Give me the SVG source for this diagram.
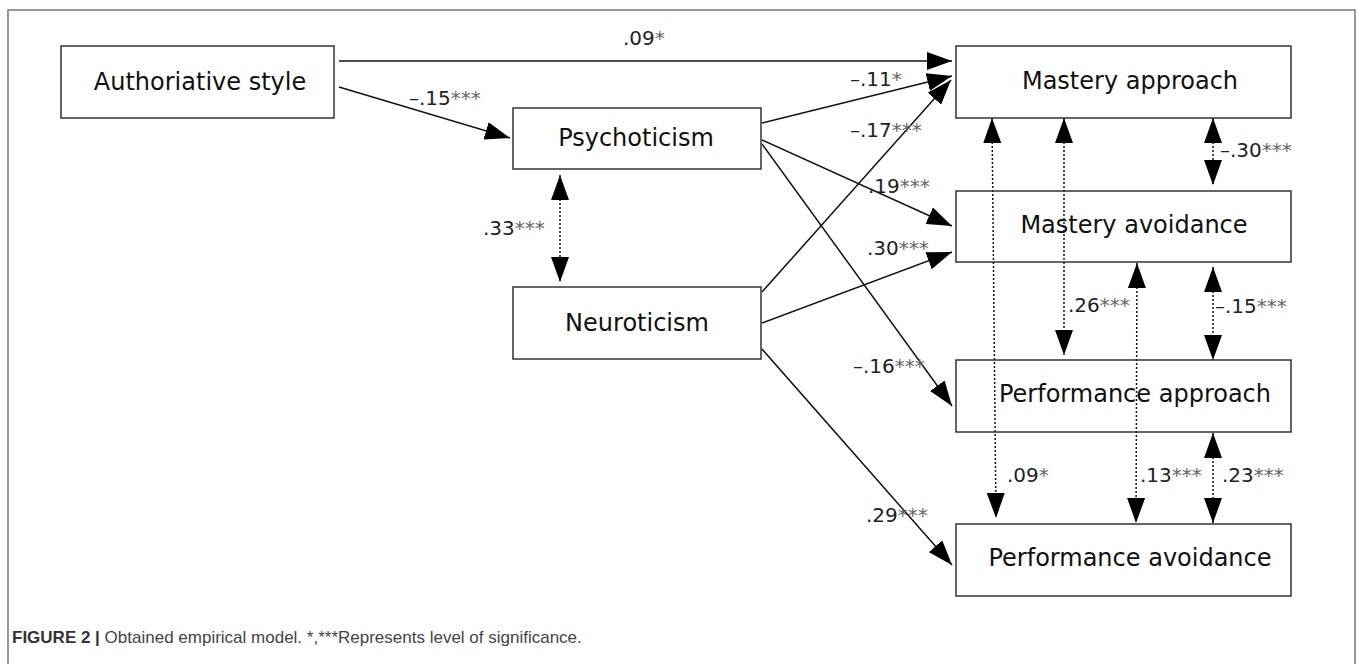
<svg xmlns="http://www.w3.org/2000/svg" width="1358" height="664" viewBox="0 0 1358 664">
<style>
.box{fill:none;stroke:#333;stroke-width:1.5}
.nt{font-family:"DejaVu Sans",sans-serif;font-size:24px;fill:#111;text-anchor:middle}
.lb{font-family:"DejaVu Sans",sans-serif;font-size:20px;fill:#222}
.st{fill:#666}
.sol{stroke:#111;stroke-width:1.5;fill:none;marker-end:url(#ah)}
.dot{stroke:#111;stroke-width:1.5;fill:none;stroke-dasharray:2 2;marker-end:url(#ah);marker-start:url(#ah)}
.cap{font-family:"Liberation Sans",Arial,sans-serif;font-size:17px;fill:#444}
</style>
<defs>
<marker id="ah" markerUnits="userSpaceOnUse" markerWidth="25" markerHeight="18" refX="25" refY="9" orient="auto-start-reverse">
<path d="M0,0 L25,9 L0,18 z" fill="#000"/>
</marker>
</defs>
<rect width="1358" height="664" fill="#fff"/>
<path d="M8,664 V10 H1355 V664" fill="none" stroke="#777" stroke-width="1.5"/>

<g id="connectors">
<line class="sol" x1="339" y1="61" x2="952" y2="61"/>
<line class="sol" x1="339" y1="87" x2="510" y2="138"/>
<line class="sol" x1="762" y1="123" x2="952" y2="76"/>
<line class="sol" x1="762" y1="140" x2="952" y2="226"/>
<line class="sol" x1="762" y1="144" x2="952" y2="406"/>
<line class="sol" x1="762" y1="292" x2="951" y2="80"/>
<line class="sol" x1="762" y1="323" x2="952" y2="252"/>
<line class="sol" x1="762" y1="349" x2="952" y2="565"/>
<line class="dot" x1="560" y1="175" x2="560" y2="282"/>
<line class="dot" x1="992" y1="118" x2="996" y2="518"/>
<line class="dot" x1="1064" y1="118" x2="1064" y2="355"/>
<line class="dot" x1="1137" y1="263" x2="1136" y2="523"/>
<line class="dot" x1="1213" y1="118" x2="1213" y2="185"/>
<line class="dot" x1="1213" y1="267" x2="1213" y2="360"/>
<line class="dot" x1="1213" y1="433" x2="1213" y2="523"/>
<text class="lb" x="623" y="45">.09<tspan class="st">*</tspan></text>
<text class="lb" x="409" y="105">–.15<tspan class="st">***</tspan></text>
<text class="lb" x="850" y="86">–.11<tspan class="st">*</tspan></text>
<text class="lb" x="850" y="137">–.17<tspan class="st">***</tspan></text>
<text class="lb" x="868" y="193">.19<tspan class="st">***</tspan></text>
<text class="lb" x="867" y="255">.30<tspan class="st">***</tspan></text>
<text class="lb" x="853" y="373">–.16<tspan class="st">***</tspan></text>
<text class="lb" x="866" y="522">.29<tspan class="st">***</tspan></text>
<text class="lb" x="483" y="235">.33<tspan class="st">***</tspan></text>
<text class="lb" x="1220" y="157">–.30<tspan class="st">***</tspan></text>
<text class="lb" x="1068" y="312">.26<tspan class="st">***</tspan></text>
<text class="lb" x="1215" y="313">–.15<tspan class="st">***</tspan></text>
<text class="lb" x="1007" y="482">.09<tspan class="st">*</tspan></text>
<text class="lb" x="1140" y="482">.13<tspan class="st">***</tspan></text>
<text class="lb" x="1222" y="482">.23<tspan class="st">***</tspan></text>
</g>

<g id="authoritative">
<rect class="box" x="61" y="46" width="273" height="72"/>
<text class="nt" x="200" y="90">Authoriative style</text>
</g>
<g id="psychoticism">
<rect class="box" x="513" y="108" width="248" height="61"/>
<text class="nt" x="636" y="146">Psychoticism</text>
</g>
<g id="neuroticism">
<rect class="box" x="513" y="287" width="248" height="72"/>
<text class="nt" x="637" y="331">Neuroticism</text>
</g>
<g id="mastery-approach">
<rect class="box" x="956" y="46" width="335" height="72"/>
<text class="nt" x="1130" y="89">Mastery approach</text>
</g>
<g id="mastery-avoidance">
<rect class="box" x="956" y="191" width="335" height="71"/>
<text class="nt" x="1134" y="233">Mastery avoidance</text>
</g>
<g id="performance-approach">
<rect class="box" x="956" y="360" width="335" height="72"/>
<text class="nt" x="1135" y="402">Performance approach</text>
</g>
<g id="performance-avoidance">
<rect class="box" x="956" y="524" width="335" height="72"/>
<text class="nt" x="1130" y="566">Performance avoidance</text>
</g>

<text class="cap" x="12" y="643"><tspan font-weight="bold" fill="#333">FIGURE 2 | </tspan>Obtained empirical model. *,***Represents level of significance.</text>
</svg>
